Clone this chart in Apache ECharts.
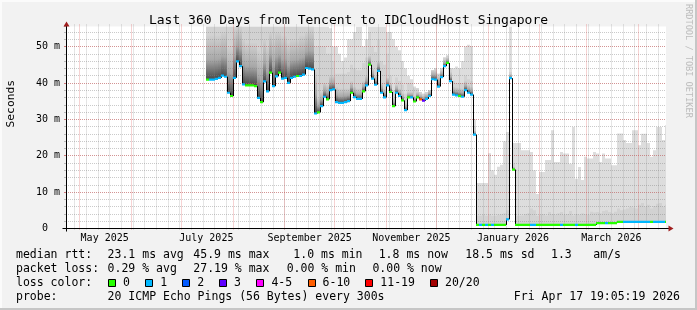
<!DOCTYPE html>
<html><head><meta charset="utf-8">
<script src="https://cdn.jsdelivr.net/npm/echarts@6/dist/echarts.min.js"></script>
<style>html,body{margin:0;padding:0;background:#f2f2f2}#c{width:697px;height:310px}</style>
</head><body><div id="c"></div>
<script>
// ---------------- data ----------------
const titleText = 'Last 360 Days from Tencent to IDCloudHost Singapore';
const sampleStartDay = 83.7;   // days after graph start (Apr 22 2025 19:05:19)
const sampleStepDays = 1.8;

const median = [
40.9,40.9,40.9,41.1,41.4,42.0,41.7,37.3,36.4,41.4,
45.9,44.6,39.6,39.3,39.3,39.3,39.1,35.9,34.7,40.4,
37.7,42.8,39.1,41.8,42.8,41.2,41.4,40.0,41.4,41.7,
41.9,41.9,42.3,44.1,43.9,43.7,31.6,31.9,33.6,36.2,
35.5,38.0,38.2,34.7,34.5,34.5,34.7,35.0,37.3,36.1,
35.6,35.6,37.7,39.3,45.0,41.2,39.5,43.3,37.3,36.0,
39.3,37.5,33.6,37.3,36.4,35.2,32.5,36.0,36.0,34.9,
36.0,35.5,35.1,35.6,36.4,41.0,40.9,39.0,41.6,44.6,
45.5,40.5,36.8,36.6,36.4,36.2,38.0,37.3,36.8,25.8,
1.0,1.0,1.0,1.0,1.0,1.0,1.0,1.0,1.0,1.0,
2.5,41.3,16.2,1.0,1.0,1.0,1.0,1.0,1.0,1.0,
1.0,1.0,1.0,1.0,1.0,1.0,1.0,1.0,1.0,1.0,
1.0,1.0,1.0,1.0,1.0,1.0,1.0,1.0,1.0,1.0,
1.5,1.5,1.5,1.5,1.5,1.5,1.5,1.8,1.8,1.8,
1.8,1.8,1.8,1.8,1.8,1.8,1.8,1.8,1.8,1.8,
1.8,1.8,1.8,1.8];

const loss = [
0,1,1,1,1,1,1,1,0,1,
1,1,1,0,0,0,0,1,0,1,
1,0,1,1,0,1,1,1,1,1,
0,1,1,1,1,1,1,0,1,1,
0,1,1,1,1,1,1,1,0,1,
1,1,0,1,0,1,1,1,1,1,
1,0,0,1,1,0,1,0,1,0,
0,6,3,1,1,1,1,1,1,1,
0,1,1,1,0,1,1,1,1,1,
0,1,0,1,0,1,0,0,0,0,
1,1,0,0,0,0,0,0,1,1,
0,0,0,0,0,0,0,0,1,0,
0,0,0,1,0,0,0,0,0,0,
0,0,0,1,0,0,0,0,0,1,
1,1,1,1,1,1,1,1,0,1,
1,1,1,0];

const smokeMax = [
58,58,58,58,58,58,58,58,58,58,
58,58,58,58,58,58,58,58,58,58,
58,58,58,58,58,58,58,58,58,58,
58,58,58,58,58,58,58,58,58,56,
56,55,50,50,48,46,47,52,52,54,
56,56,50,52,56,58,58,58,56,56,
54,54,52,50,49,46,44,42,41,39,
38.5,37.5,37,37.5,38,43.5,44,42.5,44,47,
47.5,44,44,44.5,44,46,50,50.5,50,30,
12.5,12.5,12.5,12.5,20.7,16,14.8,17,17.5,24,
26.5,58,23.5,23.5,23.5,21.5,21.5,21.5,21,16,
9.5,15.5,15.5,18.8,18.8,27,18.3,18.3,21,20.6,
20.6,17.8,27.9,13.7,16.9,13.3,19.7,19.2,19.2,21,
20.6,18.3,20.6,19.2,19.2,17.4,17.4,26.1,26.1,24.3,
23.5,23.5,27,27,22.9,26,26,23.5,19.7,21.5,
27.9,27.9,24.3,28.4];

const smokeMid = [
58,58,58,58,58,58,58,58,58,58,
58,58,58,58,58,58,58,58,58,58,
58,58,58,58,58,58,58,58,58,58,
58,58,58,58,58,58,50,50,50,50,
48,48,46,42.5,42.5,42.5,42.5,43,45,44,
43.5,43.5,45.5,47,54,50,48.5,52,46,45,
48,42,38,41.5,40.5,39.5,37,40,40,38.5,
38.5,37.5,37,37.5,38,44,44,42.5,44,47,
47.5,44,40.5,40,40,40,42,41,40.5,28,
3.5,3.5,3.8,3.5,4.0,3.5,3.5,3.8,4.0,4.2,
5.0,43,18,3.5,3.5,3.6,4.0,4.2,5.5,5.0,
3.5,3.8,4.0,3.6,4.5,4.0,3.8,4.2,4.5,3.8,
4.0,4.8,3.6,4.0,3.8,4.2,4.0,3.8,4.6,4.4,
4.5,4.2,4.8,5.0,4.5,4.2,4.6,5.5,5.0,5.2,
5.5,6.0,5.8,5.5,6.5,7.0,6.0,6.5,5.5,6.2,
6.8,7.0,6.0,6.5];

const smokeCore = [
53,53,53,53,53,54,54,50,50,55,
58,58,52,51,51,51,51,49,48,52,
50,54,52,54,54,53,53,51,52,52,
52,53,53,54,55,55,43,36,37.5,40,
39.5,42,42,39,38.5,38.5,38.5,38.5,40.5,39,
38.5,38.5,40.5,42,47.5,44,42,46,40,38.5,
41.5,40,36,39.5,38.5,37.2,34.5,37.5,37.5,36.4,
37.5,37,36.6,37.1,38,43.5,43.5,42,43.5,46.5,
47,43,39,38.8,38.6,38.5,40.5,39.5,39,27,
1.0,1.0,1.0,1.0,1.0,1.0,1.0,1.0,1.0,1.0,
3.0,42.5,17,1.0,1.0,1.0,1.0,1.0,1.0,1.0,
1.0,1.0,1.0,1.0,1.0,1.0,1.0,1.0,1.0,1.0,
1.0,1.0,1.0,1.0,1.0,1.0,1.0,1.0,1.0,1.0,
1.5,1.5,1.5,1.5,1.5,1.5,1.5,1.8,1.8,1.8,
1.8,1.8,1.8,1.8,1.8,1.8,1.8,1.8,1.8,1.8,
1.8,1.8,1.8,1.8];

const monthLabels = [['May 2025',2025,4],['July 2025',2025,6],['September 2025',2025,8],
                     ['November 2025',2025,10],['January 2026',2026,0],['March 2026',2026,2]];
const yLabelUnit = ' m';
const statsRttLabel = 'median rtt:';
const statsRtt = ['23.1 ms avg','45.9 ms max','1.0 ms min','1.8 ms now','18.5 ms sd','1.3','am/s'];
const statsLossLabel = 'packet loss:';
const statsLoss = ['0.29 % avg','27.19 % max','0.00 % min','0.00 % now'];
const lossLegendLabel = 'loss color:';
const lossLegend = ['0','1','2','3','4-5','6-10','11-19','20/20'];
const lossColors = ['#26ff00','#00b8ff','#0059ff','#5e00ff','#ff00ff','#ff5e00','#ff0000','#a10000'];
const probeLabel = 'probe:';
const probeText = '20 ICMP Echo Pings (56 Bytes) every 300s';
const stampText = 'Fri Apr 17 19:05:19 2026';
const creditText = 'RRDTOOL / TOBI OETIKER';

// ---------------- chart ----------------
const Y_MAX = 55.5, X_MAX = 360;
const FN = 'DejaVu Sans Mono';
const startMs = Date.UTC(2025,3,22,19,5,19);
const dayOf = (y,m,d) => (Date.UTC(y,m,d) - startMs) / 86400000;
const monthDays = []; for (let k = 0; k < 12; k++) monthDays.push(dayOf(2025, 4 + k, 1));
const weekDays = []; for (let d = dayOf(2025,3,28); d <= X_MAX; d += 7) weekDays.push(d);
const labelItems = monthLabels.map(([t,y,m]) => [dayOf(y,m,16), t]);
const tOf = i => sampleStartDay + i * sampleStepDays;

function lossColor(l){
  if (l <= 0) return lossColors[0];
  if (l === 1) return lossColors[1];
  if (l === 2) return lossColors[2];
  if (l === 3) return lossColors[3];
  if (l <= 5) return lossColors[4];
  if (l <= 10) return lossColors[5];
  if (l <= 19) return lossColors[6];
  return lossColors[7];
}

function colSpan(api, t){
  const xa = Math.round(api.coord([t,0])[0]);
  const xb = Math.round(api.coord([Math.min(t + sampleStepDays, X_MAX),0])[0]);
  return [xa, xb];
}

function renderSmoke(params, api){
  const cs = params.coordSys;
  const t = api.value(0);
  const [xa, xb] = colSpan(api, t);
  const w = xb - xa; if (w <= 0) return;
  const yOf = v => Math.max(cs.y, api.coord([t, Math.min(v, Y_MAX)])[1]);
  const m = api.value(1), mx = api.value(2);
  const md = Math.min(api.value(3), mx), co = Math.min(api.value(4), md);
  const yM = yOf(m);
  const ch = [];
  if (mx > m) { const y = yOf(mx); ch.push({type:'rect', shape:{x:xa,y:y,width:w,height:yM-y}, style:{fill:'#dddddd'}}); }
  if (md > m) { const y = yOf(md); ch.push({type:'rect', shape:{x:xa,y:y,width:w,height:yM-y}, style:{fill:'#d2d2d2'}}); }
  if (co > m) { const y = yOf(co); ch.push({type:'rect', shape:{x:xa,y:y,width:w,height:yM-y},
      style:{fill:{type:'linear',x:0,y:0,x2:0,y2:1,global:false,colorStops:[
        {offset:0,color:'#d0d0d0'},{offset:0.55,color:'#a8a8a8'},{offset:1,color:'#484848'}]}}}); }
  return {type:'group', children: ch};
}

function renderMedian(params, api){
  const i = params.dataIndex;
  const t = api.value(0), m = api.value(1);
  const [xa, xb] = colSpan(api, t);
  const y = api.coord([t, m])[1];
  const ch = [];
  if (i > 0) {
    const yp = api.coord([t, median[i-1]])[1];
    ch.push({type:'line', shape:{x1:xa+0.5,y1:yp,x2:xa+0.5,y2:y}, style:{stroke:'#000',lineWidth:1}});
  }
  ch.push({type:'rect', shape:{x:xa,y:y-1.1,width:Math.max(1,xb-xa),height:2.2}, style:{fill:lossColor(api.value(2))}});
  return {type:'group', children: ch};
}

function vLine(color){
  return (params, api) => {
    const cs = params.coordSys;
    const x = Math.floor(api.coord([api.value(0),0])[0]) + 0.5;
    return {type:'line', shape:{x1:x,y1:cs.y-2,x2:x,y2:cs.y+cs.height+2},
            style:{stroke:color,lineWidth:1,lineDash:[1,1]}};
  };
}

function renderXLabel(params, api){
  const cs = params.coordSys;
  const p = api.coord([api.value(0), 0]);
  return {type:'text', x:p[0], y:cs.y+cs.height+9.7,
    style:{text:labelItems[params.dataIndex][1], fill:'#000', font:'10px ' + FN,
           textAlign:'center', textVerticalAlign:'middle', align:'center', verticalAlign:'middle'}};
}

const chart = echarts.init(document.getElementById('c'), null, {renderer:'canvas', width:697, height:310});
const option = {
  backgroundColor: '#f2f2f2',
  animation: false,
  title: { text: titleText, left: 'center', top: 14, padding: 0,
           textStyle: { fontFamily: FN, fontSize: 13, fontWeight: 'normal', color: '#000' } },
  grid: { left: 66, right: 31, top: 26.5, bottom: 81.5, show: true, backgroundColor: '#ffffff', borderWidth: 0 },
  xAxis: { type: 'value', min: 0, max: X_MAX, axisLine:{show:false}, axisTick:{show:false},
           axisLabel:{show:false}, splitLine:{show:false} },
  yAxis: [
    { type:'value', min:0, max:Y_MAX, interval:10, z:4, position:'left',
      axisLine:{show:false}, axisTick:{show:true, length:2, lineStyle:{color:'rgba(222,81,81,0.6)'}},
      axisLabel:{ margin:6, fontFamily:FN, fontSize:10, color:'#000', showMaxLabel:false,
                  formatter: v => v === 0 ? '0  ' : v + yLabelUnit },
      splitLine:{ show:true, showMaxLine:false, showMinLine:false,
                  lineStyle:{ color:'rgba(222,81,81,0.45)', type:[1,1], width:1 } } },
    { type:'value', min:0, max:Y_MAX, interval:2, z:3, position:'left',
      axisLine:{show:false}, axisTick:{show:true, length:2, lineStyle:{color:'rgba(128,128,128,0.5)'}},
      axisLabel:{show:false},
      splitLine:{ show:true, showMaxLine:false, showMinLine:false,
                  lineStyle:{ color:'rgba(128,128,128,0.42)', type:[1,1], width:1 } } }
  ],
  series: [
    { type:'custom', name:'smoke', z:1, silent:true, clip:true, renderItem: renderSmoke,
      encode:{x:0,y:1}, data: smokeMax.map((v,i) => [tOf(i), median[i], v, smokeMid[i], smokeCore[i]]) },
    { type:'custom', name:'weeks', z:3, silent:true, clip:false, renderItem: vLine('rgba(128,128,128,0.42)'),
      encode:{x:0,y:1}, data: weekDays.map(d => [d, 0]) },
    { type:'custom', name:'months', z:4, silent:true, clip:false, renderItem: vLine('rgba(222,81,81,0.5)'),
      encode:{x:0,y:1}, data: monthDays.map(d => [d, 0]) },
    { type:'custom', name:'median', z:6, silent:true, clip:true, renderItem: renderMedian,
      encode:{x:0,y:1}, data: median.map((m,i) => [tOf(i), m, loss[i]]) },
    { type:'custom', name:'xlabels', z:6, silent:true, clip:false, renderItem: renderXLabel,
      encode:{x:0,y:1}, data: labelItems.map(it => [it[0], 0]) }
  ]
};
chart.setOption(option);

// axes, arrows, frame and legend text
const o = chart.convertToPixel({xAxisIndex:0, yAxisIndex:0}, [0, 0]);
const tr = chart.convertToPixel({xAxisIndex:0, yAxisIndex:0}, [X_MAX, Y_MAX]);
const ax = Math.floor(o[0]) + 0.5, ay = Math.floor(o[1]) + 0.5, plotTop = tr[1], plotRight = tr[0];
const T = (s, x, y, size, extra) => Object.assign({type:'text', x, y, silent:true, z:10,
  style:{text:s, fill:'#000', font: size + 'px ' + FN, textAlign:'left', textVerticalAlign:'middle', align:'left', verticalAlign:'middle'}}, extra || {});
const g = [];
g.push({type:'rect', shape:{x:0,y:0,width:697,height:2}, style:{fill:'#fbfbfb'}, silent:true});
g.push({type:'rect', shape:{x:0,y:0,width:2,height:310}, style:{fill:'#fbfbfb'}, silent:true});
g.push({type:'rect', shape:{x:0,y:308,width:697,height:2}, style:{fill:'#c6c6c6'}, silent:true});
g.push({type:'rect', shape:{x:695,y:0,width:2,height:310}, style:{fill:'#c6c6c6'}, silent:true});
g.push({type:'line', z:8, silent:true, shape:{x1:ax-4,y1:ay,x2:plotRight+3,y2:ay}, style:{stroke:'#000',lineWidth:1}});
g.push({type:'line', z:8, silent:true, shape:{x1:ax,y1:ay+3,x2:ax,y2:plotTop-1}, style:{stroke:'#000',lineWidth:1}});
g.push({type:'polygon', z:9, silent:true, shape:{points:[[ax,plotTop-5],[ax-3,plotTop],[ax+3,plotTop]]}, style:{fill:'#a01e1e'}});
g.push({type:'polygon', z:9, silent:true, shape:{points:[[plotRight+7.5,ay],[plotRight+2.5,ay-3],[plotRight+2.5,ay+3]]}, style:{fill:'#a01e1e'}});
g.push(T('Seconds', 10.8, (plotTop + ay) / 2, 11.3, {rotation: Math.PI/2}));
const credit = T(creditText, 688.5, 4, 8.6, {rotation: -Math.PI/2});
credit.style.fill = '#bdbdbd';
g.push(credit);
// legend lines
const L1 = 255.2, L2 = 269.2, L3 = 283.2, L4 = 297;
const rttX = [107.6, 193.3, 293.3, 378.7, 465.3, 551, 593.3];
const lossX = [107.6, 193.3, 286.7, 372.4];
g.push(T(statsRttLabel, 16, L1, 11.5));
statsRtt.forEach((s,k) => g.push(T(s, rttX[k], L1, 11.5)));
g.push(T(statsLossLabel, 16, L2, 11.5));
statsLoss.forEach((s,k) => g.push(T(s, lossX[k], L2, 11.5)));
g.push(T(lossLegendLabel, 16, L3, 11.5));
const boxX = [108, 145.3, 182.2, 219, 256.4, 307.6, 365.3, 430];
lossLegend.forEach((s,k) => {
  g.push({type:'rect', z:10, silent:true, shape:{x:Math.round(boxX[k])+0.5, y:279.5, width:7, height:7},
          style:{fill:lossColors[k], stroke:'#000', lineWidth:1}});
  g.push(T(s, boxX[k] + 15, L3, 11.5));
});
g.push(T(probeLabel, 16, L4, 11.5));
g.push(T(probeText, 107.6, L4, 11.5));
const stamp = T(stampText, 680, L4, 11.5);
stamp.style.textAlign = 'right'; stamp.style.align = 'right';
g.push(stamp);
chart.setOption({graphic: g});
</script>
</body></html>
